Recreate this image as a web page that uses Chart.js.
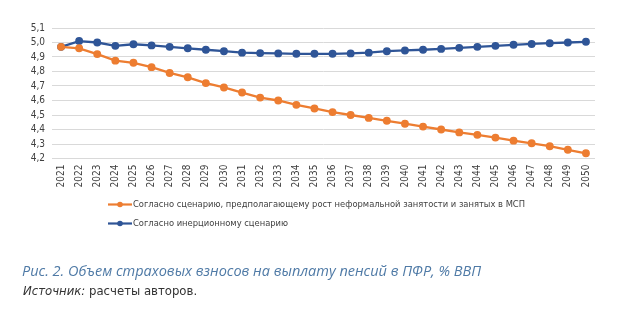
<!DOCTYPE html>
<html><head><meta charset="utf-8">
<script src="https://cdn.jsdelivr.net/npm/chart.js@4"></script>
<style>
html,body{margin:0;padding:0;background:#fff;}
#wrap{position:relative;width:620px;height:336px;overflow:hidden;}
#c{position:absolute;left:0;top:0;}
.cap{position:absolute;left:22px;top:261px;line-height:20px;font-family:"Open Sans",sans-serif;font-style:italic;font-size:14.5px;color:#4f7aa6;white-space:nowrap;}
.src{position:absolute;left:23px;top:283px;line-height:16px;font-family:"Liberation Sans Narrow","DejaVu Sans Condensed",sans-serif;font-size:13px;color:#333;white-space:nowrap;}
.src i{font-style:italic;}
</style></head>
<body><div id="wrap"><canvas id="c" width="620" height="336"></canvas>
<div class="cap">Рис. 2. Объем страховых взносов на выплату пенсий в ПФР, % ВВП</div>
<div class="src"><i>Источник:</i> расчеты авторов.</div>
</div>
<script>
const years = ["2021","2022","2023","2024","2025","2026","2027","2028","2029","2030","2031","2032","2033","2034","2035","2036","2037","2038","2039","2040","2041","2042","2043","2044","2045","2046","2047","2048","2049","2050"];
const informalScenario = [4.97,4.96,4.92,4.875,4.86,4.83,4.79,4.76,4.72,4.69,4.655,4.62,4.60,4.57,4.545,4.52,4.50,4.48,4.46,4.44,4.42,4.40,4.38,4.363,4.344,4.323,4.305,4.285,4.26,4.236];
const inertialScenario = [4.97,5.01,5.00,4.977,4.988,4.98,4.97,4.96,4.95,4.94,4.93,4.927,4.925,4.922,4.922,4.922,4.925,4.93,4.94,4.945,4.95,4.956,4.963,4.97,4.977,4.984,4.99,4.995,5.00,5.005];
const seriesNames = ["Согласно сценарию, предполагающему рост неформальной занятости и занятых в МСП","Согласно инерционному сценарию"];
const yTicks = [4.2,4.3,4.4,4.5,4.6,4.7,4.8,4.9,5.0,5.1];

const FONT = '"Liberation Sans Narrow","DejaVu Sans Condensed",sans-serif';
const ORANGE = '#ED7D31', BLUE = '#2F5597';

const legendPlugin = {
  id:'customLegend',
  afterDraw(chart){
    const ctx = chart.ctx;
    const rows = [204.5, 223.5];
    chart.data.datasets.forEach((ds,i)=>{
      const y = rows[i], x0 = 108, x1 = 132;
      ctx.save();
      ctx.strokeStyle = ds.borderColor; ctx.lineWidth = 2.2;
      ctx.beginPath(); ctx.moveTo(x0,y); ctx.lineTo(x1,y); ctx.stroke();
      ctx.fillStyle = ds.borderColor;
      ctx.beginPath(); ctx.arc((x0+x1)/2,y,2.8,0,Math.PI*2); ctx.fill();
      ctx.fillStyle = '#404040'; ctx.font = '9.3px '+FONT; ctx.textBaseline='middle'; ctx.textAlign='left';
      ctx.fillText(ds.label, x1+1, y+0.5);
      ctx.restore();
    });
  }
};

new Chart(document.getElementById('c'),{
  type:'line',
  data:{labels:years,datasets:[
    {label:seriesNames[0],data:informalScenario,borderColor:ORANGE,backgroundColor:ORANGE,borderWidth:2.3,pointRadius:2.8,pointBackgroundColor:ORANGE,pointBorderColor:ORANGE,tension:0},
    {label:seriesNames[1],data:inertialScenario,borderColor:BLUE,backgroundColor:BLUE,borderWidth:2.3,pointRadius:2.8,pointBackgroundColor:BLUE,pointBorderColor:BLUE,tension:0}
  ]},
  options:{
    responsive:false,animation:false,devicePixelRatio:1,
    layout:{padding:{top:28,right:25,left:0,bottom:0}},
    plugins:{legend:{display:false},tooltip:{enabled:false}},
    scales:{
      x:{offset:true,grid:{display:false,drawTicks:false},border:{display:false},
         ticks:{minRotation:90,maxRotation:90,autoSkip:false,padding:6,color:'#404040',font:{family:FONT,size:10}},
         afterFit(s){s.height=177.5;}},
      y:{min:4.2,max:5.1,
         afterBuildTicks(s){s.ticks=yTicks.map(v=>({value:v}));},
         grid:{color:'#d9d9d9',lineWidth:1,drawTicks:false},border:{display:false},
         ticks:{autoSkip:false,padding:7,color:'#404040',font:{family:FONT,size:10},callback:v=>v.toFixed(1).replace('.',',')},
         afterFit(s){s.width=52;}}
    }
  },
  plugins:[legendPlugin]
});
</script></body></html>
